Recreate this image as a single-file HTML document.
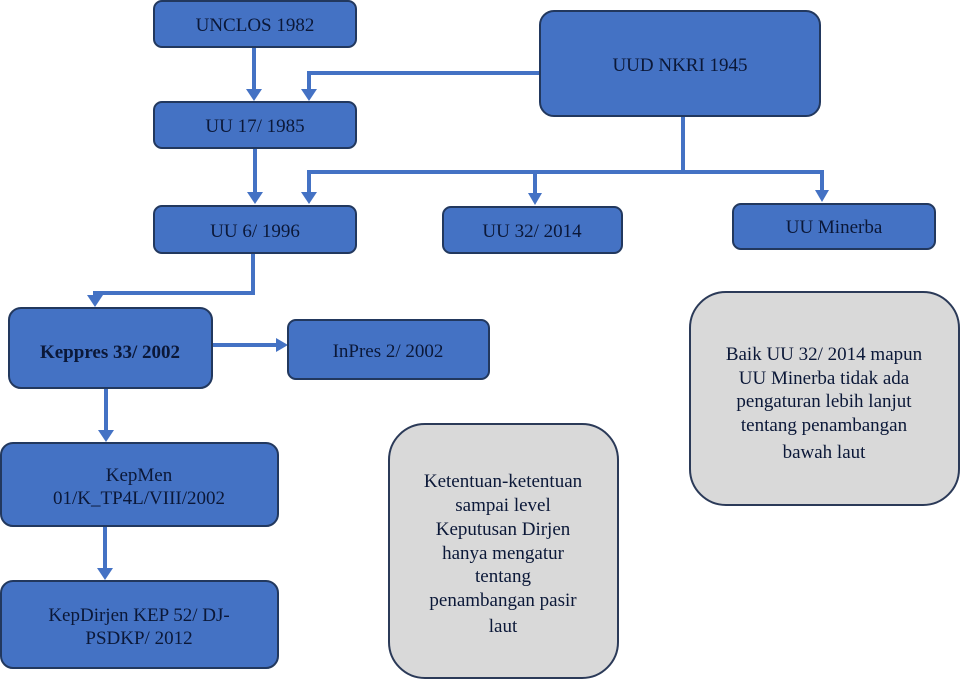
<!DOCTYPE html>
<html><head><style>
html,body{margin:0;padding:0;background:#fff;}
svg{display:block;}
text{font-family:"Liberation Serif","Times New Roman",Times,serif;font-size:19px;fill:#0b1838;text-anchor:middle;}
.b{fill:#4472C4;stroke:#22385e;stroke-width:2;}
.g{fill:#d9d9d9;stroke:#2b3a58;stroke-width:2;}
.l{stroke:#4472C4;stroke-width:4;fill:none;}
.a{fill:#4472C4;}
</style></head><body>
<svg width="961" height="680" viewBox="0 0 961 680" font-family="Liberation Serif, Times New Roman, serif">
<path class="l" d="M254 47 V92"/><polygon class="a" points="246,89 262,89 254,101"/>
<path class="l" d="M540 73 H309 V92"/><polygon class="a" points="301,89 317,89 309,101"/>
<path class="l" d="M255 148 V195"/><polygon class="a" points="247,192 263,192 255,204"/>
<path class="l" d="M683 116 V172"/>
<path class="l" d="M822 193 V172 H309 V195"/><polygon class="a" points="301,192 317,192 309,204"/>
<path class="l" d="M535 172 V196"/><polygon class="a" points="528,193 542,193 535,205"/>
<polygon class="a" points="815,190 829,190 822,202"/>
<path class="l" d="M253 253 V293 H95 V298"/><polygon class="a" points="87,295 103,295 95,307"/>
<path class="l" d="M212 345 H278"/><polygon class="a" points="276,338 288,345 276,352"/>
<path class="l" d="M106 388 V433"/><polygon class="a" points="98,430 114,430 106,442"/>
<path class="l" d="M105 526 V571"/><polygon class="a" points="97,568 113,568 105,580"/>
<rect class="b" x="154" y="1" width="202" height="46" rx="8"/><text x="255" y="31">UNCLOS 1982</text>
<rect class="b" x="154" y="102" width="202" height="46" rx="8"/><text x="255" y="132">UU 17/ 1985</text>
<rect class="b" x="154" y="206" width="202" height="47" rx="8"/><text x="255" y="237">UU 6/ 1996</text>
<rect class="b" x="540" y="11" width="280" height="105" rx="14"/><text x="680" y="71">UUD NKRI 1945</text>
<rect class="b" x="443" y="207" width="179" height="46" rx="8"/><text x="532" y="237">UU 32/ 2014</text>
<rect class="b" x="733" y="204" width="202" height="45" rx="8"/><text x="834" y="233">UU Minerba</text>
<rect class="b" x="9" y="308" width="203" height="80" rx="12"/><text x="110" y="358" style="font-weight:bold">Keppres 33/ 2002</text>
<rect class="b" x="288" y="320" width="201" height="59" rx="8"/><text x="388" y="357">InPres 2/ 2002</text>
<rect class="b" x="1" y="443" width="277" height="83" rx="12"/><text x="139" y="481">KepMen</text><text x="139" y="504">01/K_TP4L/VIII/2002</text>
<rect class="b" x="1" y="581" width="277" height="87" rx="12"/><text x="139" y="621">KepDirjen KEP 52/ DJ-</text><text x="139" y="644">PSDKP/ 2012</text>
<rect class="g" x="389" y="424" width="229" height="254" rx="36"/>
<text x="503" y="487">Ketentuan-ketentuan</text><text x="503" y="511">sampai level</text><text x="503" y="535">Keputusan Dirjen</text><text x="503" y="559">hanya mengatur</text><text x="503" y="582">tentang</text><text x="503" y="606">penambangan pasir</text><text x="503" y="632">laut</text>
<rect class="g" x="690" y="292" width="269" height="213" rx="36"/>
<text x="824" y="360">Baik UU 32/ 2014 mapun</text><text x="824" y="384">UU Minerba tidak ada</text><text x="824" y="407">pengaturan lebih lanjut</text><text x="824" y="431">tentang penambangan</text><text x="824" y="458">bawah laut</text>
</svg>
</body></html>
